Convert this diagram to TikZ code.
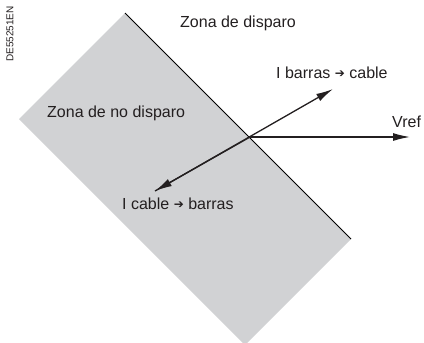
\documentclass[tikz,border=0pt]{standalone}
\usepackage{fontspec}
\setmainfont{Liberation Sans}
\newfontfamily\symfont{DejaVu Sans}
\usetikzlibrary{arrows.meta}
\definecolor{zonegray}{RGB}{209,210,212}
\definecolor{ink}{RGB}{35,31,32}
\newcommand{\rarr}{{\symfont\fontsize{12bp}{12bp}\selectfont\raisebox{0.5bp}{➔}}}
\tikzset{
  lbl/.style={inner sep=0pt, anchor=base west, text=ink, font=\fontsize{16bp}{18bp}\selectfont},
  vec/.style={draw=ink, line width=1.3bp, -{Latex[length=17bp,width=8bp]}},
}
\begin{document}
\begin{tikzpicture}[x=1bp,y=-1bp]
\useasboundingbox (0,0) rectangle (424,343);
\coordinate (T) at (125,13);
\coordinate (R) at (351,239);
\coordinate (B) at (245,345);
\coordinate (L) at (19,119);
\fill[zonegray] (T) -- (R) -- (B) -- (L) -- cycle;
\draw[black, line width=0.9bp] (T) -- (R);
\coordinate (O) at (250,137);
\coordinate (vref) at (410,137);
\coordinate (ib) at (333,89);
\coordinate (ic) at (155,191);
\draw[vec] (O) -- (vref);
\draw[vec] (ic) -- (ib);
\draw[vec] (O) -- (ic);
\node[lbl] (zd) at (180,27) {Zona de disparo};
\node[lbl] (znd) at (47,117) {Zona de no disparo};
\node[lbl] (lib) at (276,78) {I barras \rarr\ cable};
\node[lbl] (lv) at (392,127) {Vref};
\node[lbl] (lic) at (122,209) {I cable \rarr\ barras};
\node[inner sep=0pt, rotate=90, text=ink, font=\fontsize{10bp}{11bp}\selectfont] (code) at (10,34) {DE55251EN};
\end{tikzpicture}
\end{document}
